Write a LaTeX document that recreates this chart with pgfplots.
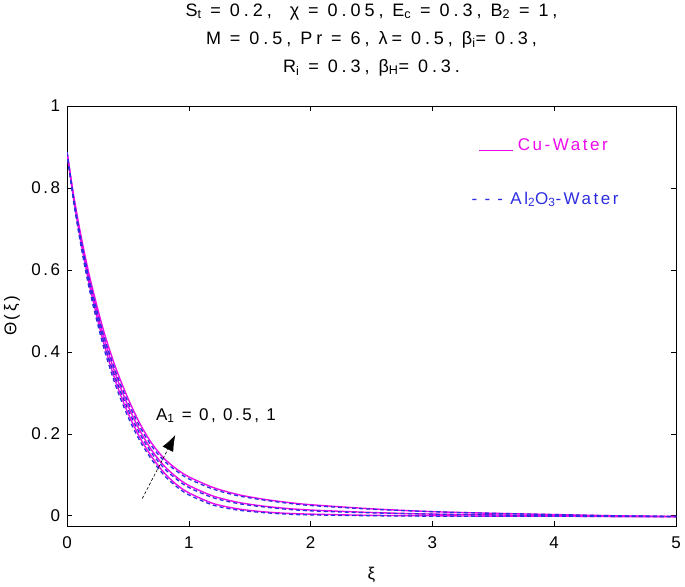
\documentclass[border=0pt]{standalone}
\usepackage{pgfplots}
\pgfplotsset{compat=1.18}
\usepackage{fontspec}
\setmainfont{Liberation Sans}[LetterSpace=15]
\newfontfamily\titlefont{Liberation Sans}[LetterSpace=22]
\usetikzlibrary{calc,arrows.meta}
\definecolor{cuMag}{RGB}{235,10,235}
\definecolor{alBlue}{RGB}{45,45,225}
\newcommand{\fs}{\fontsize{17bp}{28bp}\selectfont}
\pgfplotstableread{
x cu0 cu05 cu1 al0 al05 al1
0    0.887 0.887 0.887 0.887 0.887 0.887
0.05 0.782 0.786 0.790 0.776 0.780 0.784
0.1  0.692 0.699 0.706 0.683 0.690 0.697
0.15 0.612 0.622 0.632 0.602 0.612 0.622
0.2  0.542 0.554 0.566 0.531 0.543 0.555
0.3  0.423 0.437 0.452 0.412 0.426 0.441
0.4  0.327 0.344 0.361 0.317 0.334 0.351
0.5  0.251 0.269 0.287 0.242 0.260 0.278
0.6  0.190 0.207 0.224 0.182 0.199 0.216
0.7  0.142 0.158 0.175 0.135 0.151 0.168
0.8  0.104 0.121 0.139 0.098 0.115 0.133
0.9  0.076 0.094 0.114 0.071 0.089 0.109
1.0  0.056 0.074 0.095 0.051 0.069 0.090
1.2  0.030 0.048 0.069 0.026 0.044 0.065
1.4  0.017 0.033 0.052 0.014 0.030 0.049
1.6  0.010 0.024 0.041 0.008 0.022 0.039
1.8  0.006 0.018 0.033 0.004 0.016 0.031
2.0  0.004 0.014 0.027 0.002 0.012 0.025
2.5  0.001 0.008 0.017 0.000 0.007 0.016
3.0  0.000 0.004 0.010 -0.001 0.004 0.010
3.5  -0.001 0.002 0.006 -0.001 0.002 0.006
4.0  -0.001 0.000 0.003 -0.001 0.000 0.003
4.5  -0.002 -0.001 0.000 -0.002 -0.001 0.000
5.0  -0.002 -0.002 -0.002 -0.002 -0.002 -0.002
}\datatable
\begin{document}
\fs
\begin{tikzpicture}
\begin{axis}[
  scale only axis, width=609bp, height=420bp,
  xmin=0, xmax=5, ymin=-0.025, ymax=1,
  xtick={0,1,2,3,4,5}, ytick={0,0.2,0.4,0.6,0.8,1},
  tick align=inside, xtick pos=both, ytick pos=both,
  major tick length=5bp,
  axis line style={line width=0.8pt},
  every tick/.style={black, line width=0.6pt},
  /pgf/number format/assume math mode=true,
  ticklabel style={font=\fs},
  xticklabel style={yshift=-5bp},
  yticklabel style={xshift=-1bp},
]
\addplot[cuMag, line width=1.4pt, smooth, tension=0.5] table[x=x,y=cu0] {\datatable};
\addplot[cuMag, line width=1.4pt, smooth, tension=0.5] table[x=x,y=cu05] {\datatable};
\addplot[cuMag, line width=1.4pt, smooth, tension=0.5] table[x=x,y=cu1] {\datatable};
\addplot[alBlue, line width=1.3pt, dash pattern=on 4bp off 3bp, smooth, tension=0.5] table[x=x,y=al0] {\datatable};
\addplot[alBlue, line width=1.3pt, dash pattern=on 4bp off 3bp, smooth, tension=0.5] table[x=x,y=al05] {\datatable};
\addplot[alBlue, line width=1.3pt, dash pattern=on 4bp off 3bp, smooth, tension=0.5] table[x=x,y=al1] {\datatable};
\draw[black, line width=0.6pt, densely dashed, -{Latex[length=16bp,width=12bp]}] (axis cs:0.618,0.042) -- (axis cs:0.889,0.197);
\node[anchor=west, inner sep=0pt] at (axis cs:0.73,0.245) {A\textsubscript{1} = 0, 0.5, 1};
\node[anchor=west, inner sep=0pt, text=cuMag] at (axis cs:3.38,0.905) {\rule[-1bp]{34bp}{0.9bp}\hspace{5bp}Cu-Water};
\node[anchor=west, inner sep=0pt, text=alBlue] at (axis cs:3.32,0.772) {- - - Al\textsubscript{2}O\textsubscript{3}-Water};
\end{axis}
\node[anchor=south, align=center, inner sep=0pt, font=\titlefont\fontsize{18bp}{28bp}\selectfont] at ($(current axis.north)+(0,30bp)$)
  {S\textsubscript{t} = 0.2,\ \ χ = 0.05, E\textsubscript{c} = 0.3, B\textsubscript{2} = 1,\\
   M = 0.5, Pr = 6, λ= 0.5, β\textsubscript{i}= 0.3,\\
   R\textsubscript{i} = 0.3, β\textsubscript{H}= 0.3.};
\node[rotate=90] at ($(current axis.west)+(-55bp,0)$) {Θ(ξ)};
\node at ($(current axis.south)+(0,-49bp)$) {ξ};
\pgfresetboundingbox
\path ($(current axis.south west)+(-67bp,-61bp)$) rectangle ($(current axis.north east)+(9bp,106bp)$);
\end{tikzpicture}
\end{document}
